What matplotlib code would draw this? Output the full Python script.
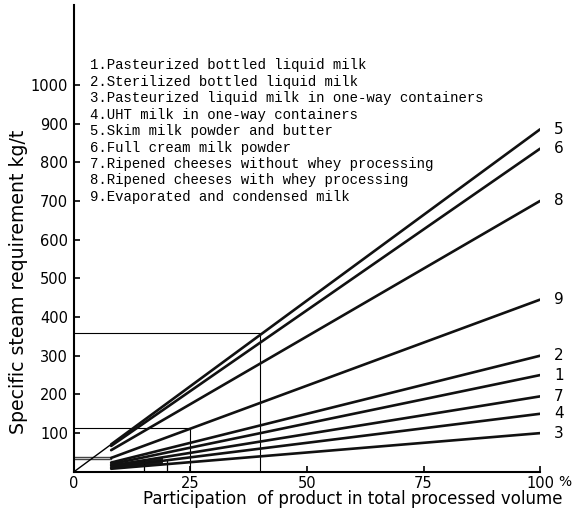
import matplotlib
matplotlib.use("Agg")
from matplotlib import pyplot as plt

# product lines: label, value at start (8 %) and at 100 %
line_ids = ['5', '6', '8', '9', '2', '1', '7', '4', '3']
x_start = 8
x_end = 100
y_start = [71, 67, 56, 36, 24, 20, 16, 12, 8]
y_end = [885, 835, 700, 445, 300, 250, 195, 150, 100]

# reading guides
guide_x = [40, 25]
guide_y = [360, 112]
small_h_y = [39, 33]
small_h_x = 8
small_v_x = [15, 20]
small_v_y = 30

legend_lines = [
    "1.Pasteurized bottled liquid milk",
    "2.Sterilized bottled liquid milk",
    "3.Pasteurized liquid milk in one-way containers",
    "4.UHT milk in one-way containers",
    "5.Skim milk powder and butter",
    "6.Full cream milk powder",
    "7.Ripened cheeses without whey processing",
    "8.Ripened cheeses with whey processing",
    "9.Evaporated and condensed milk",
]

xticks = [0, 25, 50, 75, 100]
xtick_labels = ['0', '25', '50', '75', '100']
yticks = [100, 200, 300, 400, 500, 600, 700, 800, 900, 1000]

fig = plt.figure(figsize=(5.77, 5.09), dpi=100)
ax = fig.add_axes([0.128, 0.073, 0.808, 0.917])
ax.set_xlim(0, 100)
ax.set_ylim(0, 1206)

for gx, gy in zip(guide_x, guide_y):
    ax.plot([0, gx, gx], [gy, gy, 0], color='black', lw=0.8)
for hy in small_h_y:
    ax.plot([0, small_h_x], [hy, hy], color='#444444', lw=1.0)
for vx in small_v_x:
    ax.plot([vx, vx], [0, small_v_y], color='black', lw=0.9)

# thin extension of line 5 back to the origin
ax.plot([0, x_start], [0, y_start[0]], color='black', lw=1.0)

# dark smudge where the lower lines begin
i3 = line_ids.index('3')
i1 = line_ids.index('1')
bx = [x_start, 19]
lo = [y_start[i3], y_start[i3] + (y_end[i3] - y_start[i3]) * (19 - x_start) / (x_end - x_start)]
hi = [y_start[i1], y_start[i1] + (y_end[i1] - y_start[i1]) * (19 - x_start) / (x_end - x_start) * 0.75]
ax.fill_between(bx, lo, hi, color='#1a1a1a', lw=0)

for lab, y0, y1 in zip(line_ids, y_start, y_end):
    ax.plot([x_start, x_end], [y0, y1], color='#111111', lw=1.9, solid_capstyle='round')
    ax.text(x_end + 3.0, y1, lab, fontsize=11, va='center', ha='left',
            clip_on=False)

for i, t in enumerate(legend_lines):
    ax.text(3.5, 1051 - i * 42.6, t, family='Liberation Mono', fontsize=10.1,
            va='center', ha='left')

ax.spines['top'].set_visible(False)
ax.spines['right'].set_visible(False)
ax.spines['left'].set_linewidth(1.5)
ax.spines['bottom'].set_linewidth(1.5)
ax.set_xticks(xticks)
ax.set_xticklabels(xtick_labels, fontsize=10.5)
ax.set_yticks(yticks)
ax.set_yticklabels([str(v) for v in yticks], fontsize=10.5)
ax.tick_params(direction='in', length=4, width=1.2, pad=4)
ax.tick_params(axis='x', pad=3)
ax.text(105.2, -26, "%", fontsize=10, ha='center', va='center', clip_on=False)

fig.text(353 / 577, 1 - 499.5 / 509, "Participation  of product in total processed volume",
         fontsize=12, ha='center', va='center')
fig.text(19 / 577, 1 - 282 / 509, "Specific steam requirement kg/t",
         fontsize=13.6, ha='center', va='center', rotation=90)

fig.savefig("out.png", dpi=100)
